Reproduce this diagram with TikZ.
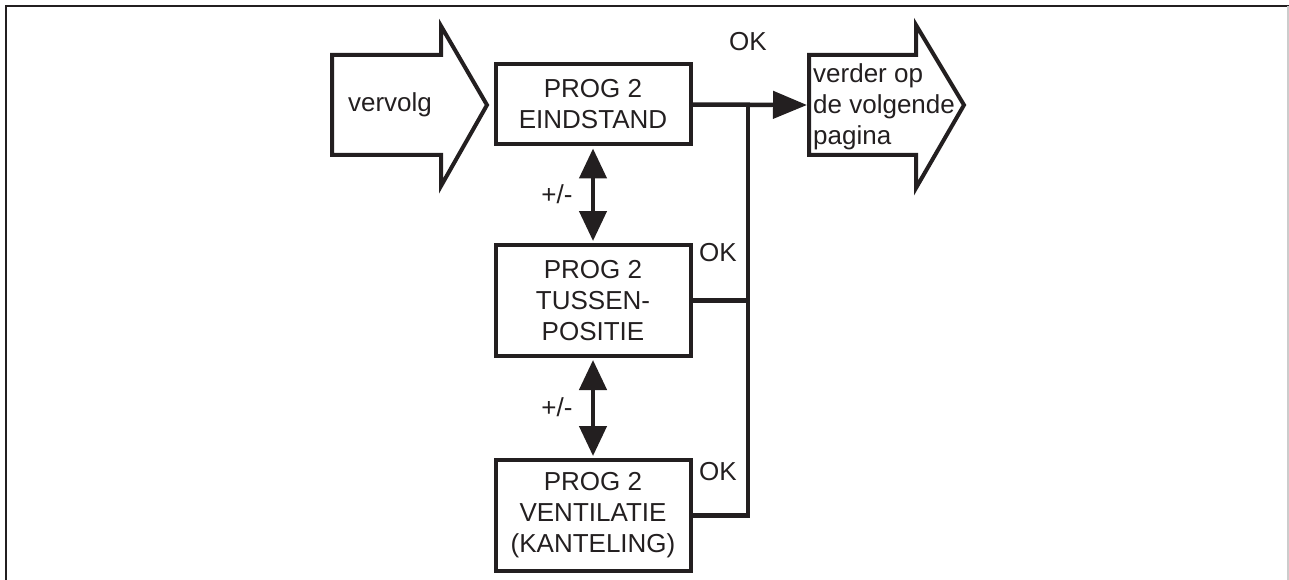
\documentclass[tikz,border=0pt]{standalone}
\usepackage{fontspec}
\setmainfont{Liberation Sans}
\usetikzlibrary{arrows.meta}
\definecolor{ink}{HTML}{231F20}
\begin{document}
\begin{tikzpicture}[x=1pt,y=-1pt,
  txt/.style={text=ink, font=\fontsize{26}{31}\selectfont, inner sep=0pt},
  box/.style={txt, draw=ink, line width=4pt, minimum width=195pt, align=center},
  blockarrow/.style={draw=ink, line width=4pt, miter limit=10},
  conn/.style={draw=ink, line width=4.5pt},
  dbl/.style={conn, {Triangle[length=30pt,width=27pt]}-{Triangle[length=30pt,width=27pt]}, shorten <=2pt, shorten >=2pt},
  sgl/.style={conn, -{Triangle[length=34pt,width=27pt]}},
  frame/.style={draw=ink, line width=2.5pt}
]
\useasboundingbox (0,0) rectangle (1289,580);
% frame
\draw[frame] (6,580) -- (6,6) -- (1289,6);
\draw[draw=black!20, line width=1.5pt] (1288,6) -- (1288,580);

% left block arrow
\draw[blockarrow] (332,55) -- (441,55) -- (441,26) -- (487,105) -- (441,186) -- (441,155) -- (332,155) -- cycle;
\node[txt] (vervolg) at (390,105) {vervolg};

% right block arrow
\draw[blockarrow] (809,55) -- (916,55) -- (916,25) -- (964,105) -- (916,188) -- (916,155) -- (809,155) -- cycle;
\node[txt, anchor=west, align=left] (verder) at (813,107) {verder op\\de volgende\\pagina};
\coordinate (ra) at (807,105);

% boxes
\node[box, minimum height=80pt] (b1) at (593,104.5) {PROG 2\\EINDSTAND};
\node[box, minimum height=111pt] (b2) at (593,300.5) {PROG 2\\TUSSEN-\\POSITIE};
\node[box, minimum height=111pt] (b3) at (593,515.5) {PROG 2\\VENTILATIE\\(KANTELING)};

% double arrows
\draw[dbl] (b1.south) -- (b2.north);
\draw[dbl] (b2.south) -- (b3.north);
\node[txt] (pm1) at (557,194) {+/-};
\node[txt] (pm2) at (557,407) {+/-};

% OK connections
\coordinate (j1) at (748,104.5);
\draw[sgl] (b1.east) -- (ra);
\draw[conn] (b3.east) -| (j1);
\draw[conn] (b2.east) -- (b2.east -| j1);

\node[txt] (ok1) at (748,42) {OK};
\node[txt] (ok2) at (718,253) {OK};
\node[txt] (ok3) at (718,472) {OK};
\end{tikzpicture}
\end{document}
